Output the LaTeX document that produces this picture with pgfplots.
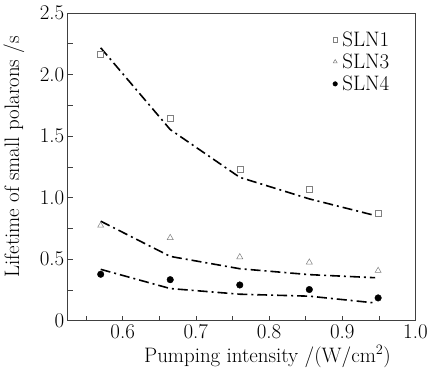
\documentclass[border=0pt]{standalone}
\usepackage{pgfplots}
\pgfplotsset{compat=1.18}
\begin{document}
\begin{tikzpicture}
\begin{axis}[
  name=ax,
  scale only axis, width=349pt, height=309pt,
  xmin=0.525, xmax=1.0, ymin=0, ymax=2.5,
  xtick={0.6,0.7,0.8,0.9,1.0},
  minor xtick={0.55,0.65,0.75,0.85,0.95},
  ytick={0,0.5,1.0,1.5,2.0,2.5},
  minor ytick={0.25,0.75,1.25,1.75,2.25},
  xticklabels={0.6,0.7,0.8,0.9,1.0},
  yticklabels={0,0.5,1.0,1.5,2.0,2.5},
  tick pos=left, tick align=inside,
  major tick length=5pt, minor tick length=5pt,
  axis line style={line width=0.9pt, black!75},
  every tick/.style={black!75, line width=0.7pt},
  tick label style={font=\fontsize{21}{23}\selectfont},
  label style={font=\fontsize{21}{23}\selectfont},
  xlabel={Pumping intensity /(W/cm$^2$)},
  ylabel={Lifetime of small polarons /s},
  xlabel style={at={([xshift=26pt,yshift=-36pt]rel axis cs:0.5,0)}, anchor=center},
  ylabel style={at={([xshift=-54pt,yshift=10pt]rel axis cs:0,0.5)}, anchor=center},
  legend style={draw=none, fill=none, at={(0.762,0.94)}, anchor=north west, font=\fontsize{21}{23}\selectfont, row sep=6pt, column sep=4pt, inner xsep=0pt, inner ysep=0pt, nodes={inner xsep=1pt, inner ysep=0pt}},
  legend cell align=left,
  legend image code/.code={\draw[#1, mark size=2.3pt] plot coordinates {(0,0)};},
]
\addplot[only marks, mark=square, mark size=3pt, black!50, mark options={line width=0.5pt}] coordinates {
(0.570,2.163) (0.665,1.645) (0.760,1.232) (0.855,1.068) (0.949,0.874)};
\addlegendentry{SLN1}
\addplot[only marks, mark=triangle, mark size=3.5pt, black!50, mark options={line width=0.5pt}] coordinates {
(0.570,0.774) (0.665,0.674) (0.760,0.518) (0.855,0.475) (0.949,0.407)};
\addlegendentry{SLN3}
\addplot[only marks, mark=*, mark size=3.3pt, black] coordinates {
(0.570,0.378) (0.665,0.334) (0.760,0.291) (0.855,0.254) (0.949,0.186)};
\addlegendentry{SLN4}
\addplot[black, line width=1.6pt, dash pattern=on 10pt off 4pt on 2pt off 4pt, forget plot] coordinates {
(0.570,2.217) (0.665,1.553) (0.760,1.165) (0.855,0.990) (0.945,0.855)};
\addplot[black, line width=1.6pt, dash pattern=on 10pt off 4pt on 2pt off 4pt, forget plot] coordinates {
(0.570,0.809) (0.665,0.523) (0.760,0.423) (0.855,0.375) (0.945,0.350)};
\addplot[black, line width=1.6pt, dash pattern=on 10pt off 4pt on 2pt off 4pt, forget plot] coordinates {
(0.570,0.418) (0.665,0.262) (0.760,0.216) (0.855,0.200) (0.945,0.145)};
\end{axis}
\path (ax.south west) ++(-68pt,-55pt) rectangle ++(431pt,377pt);
\end{tikzpicture}
\end{document}
